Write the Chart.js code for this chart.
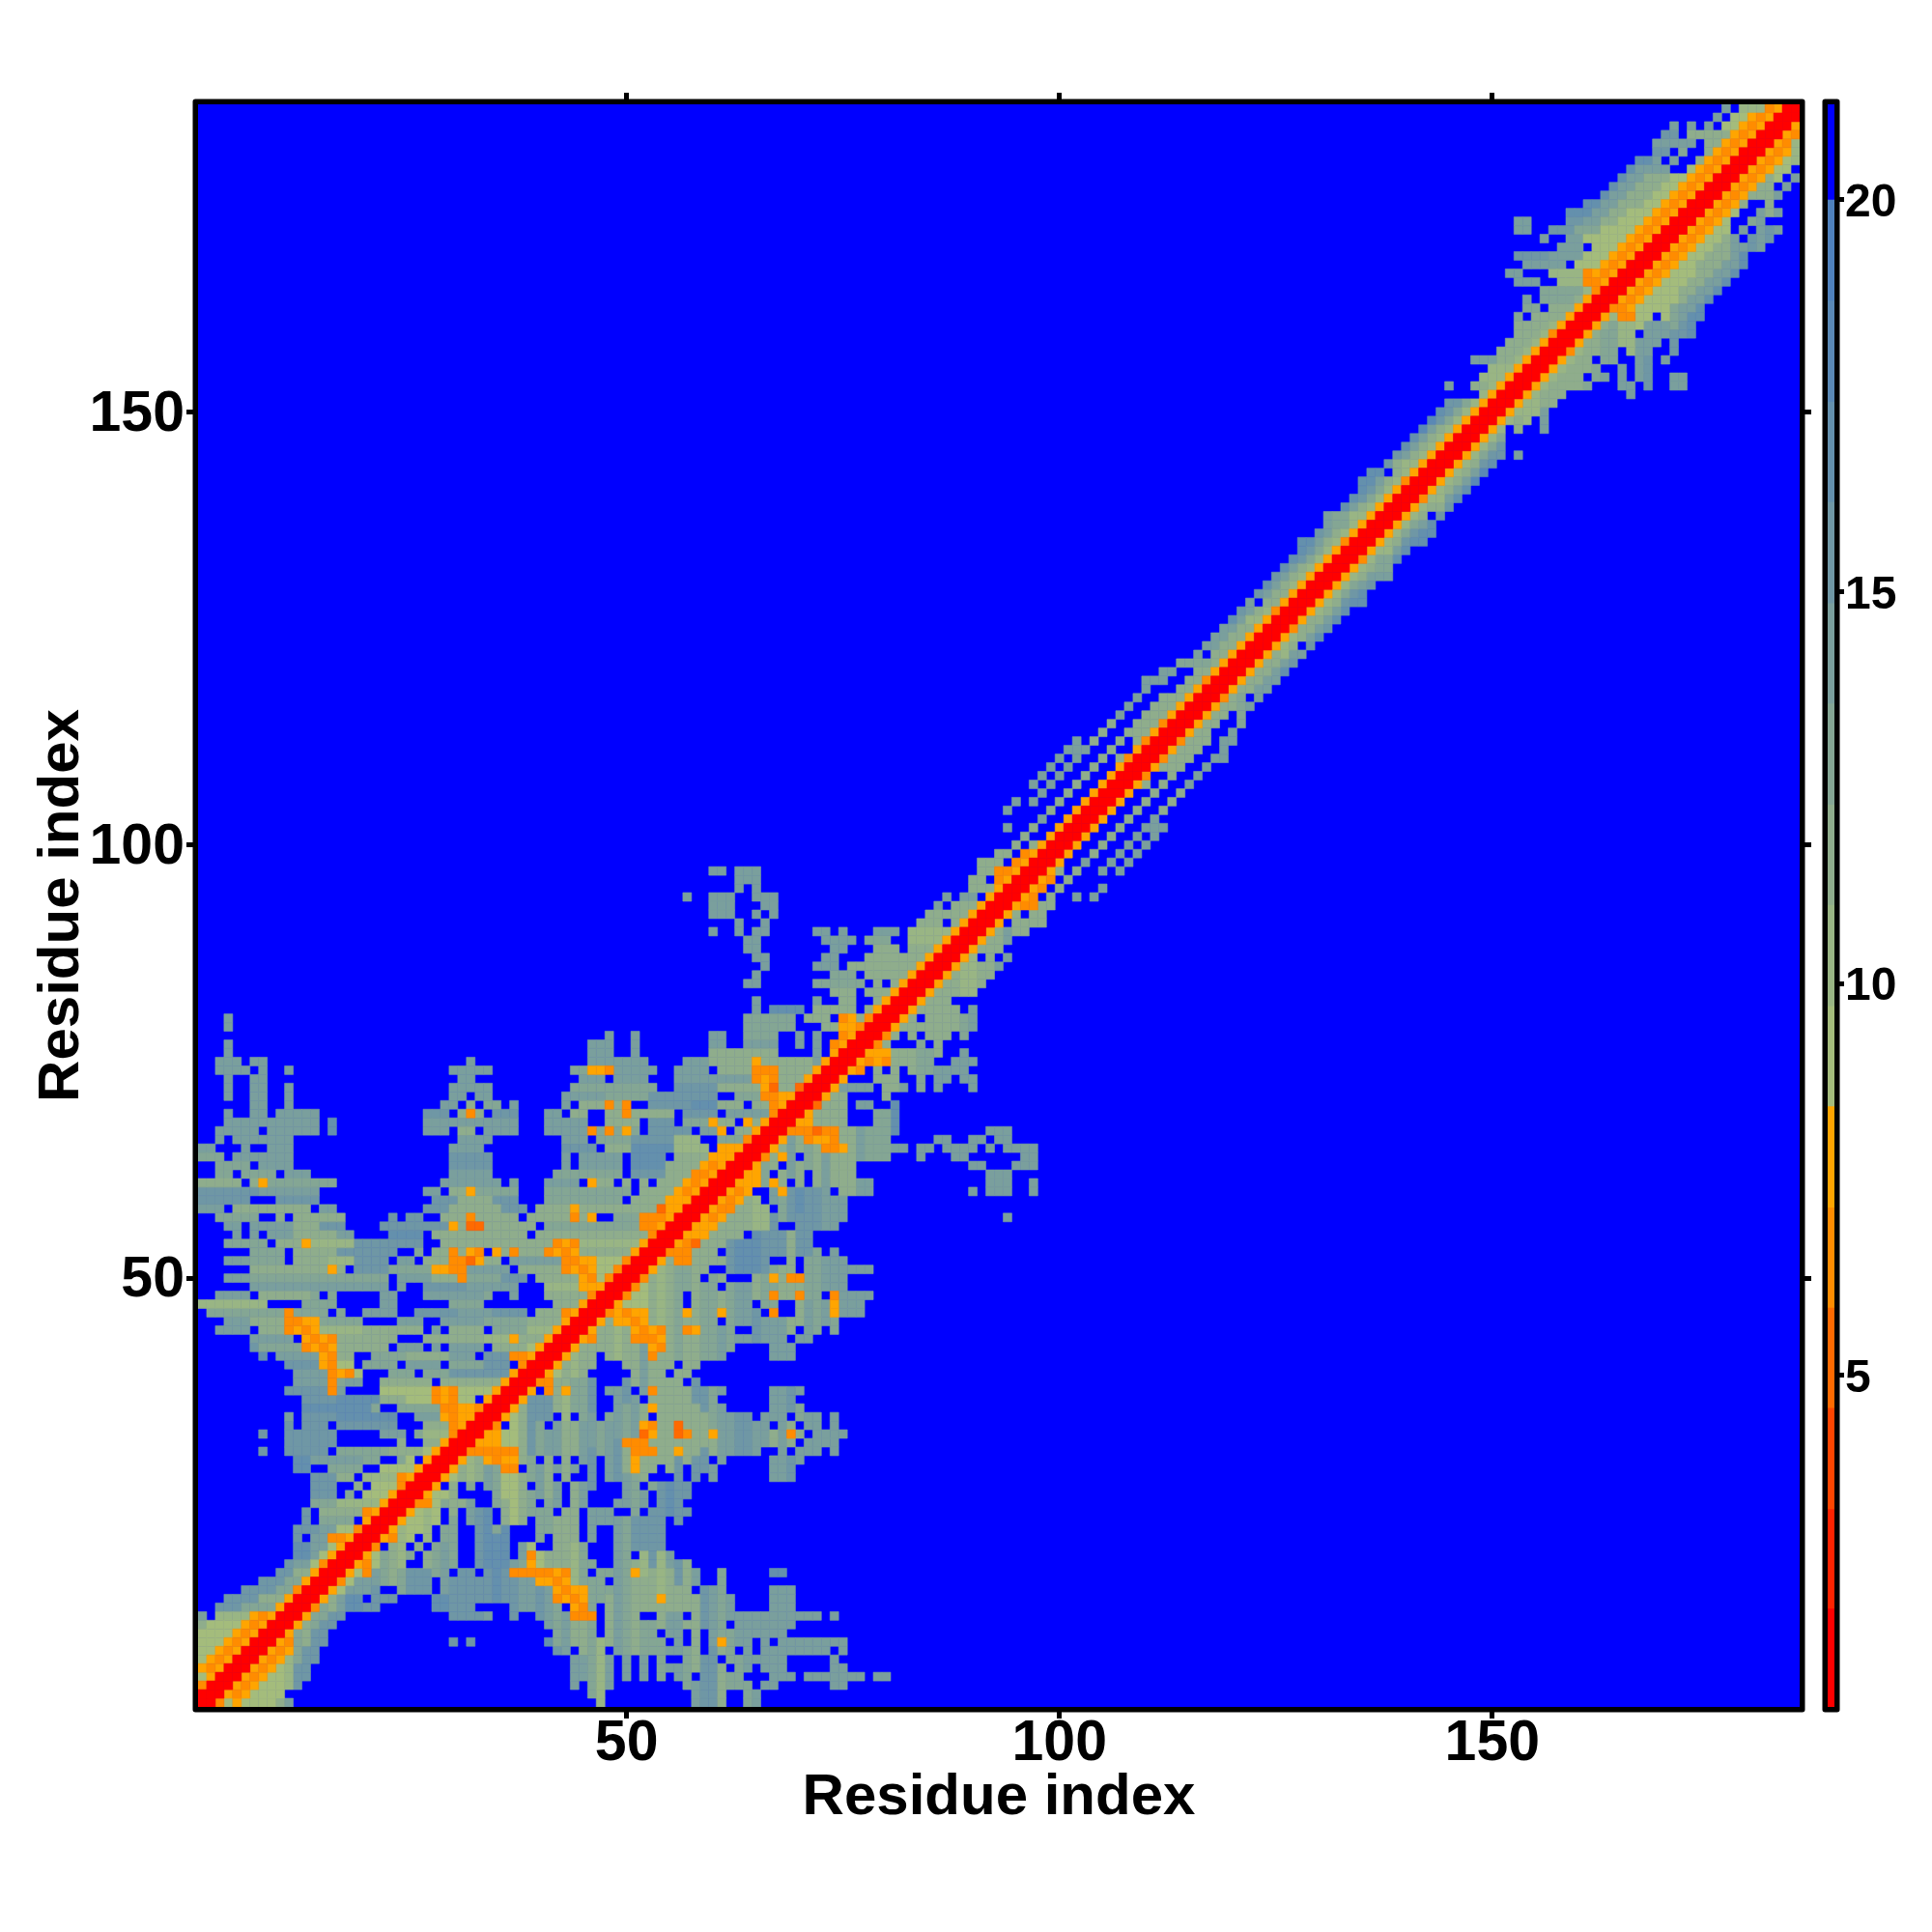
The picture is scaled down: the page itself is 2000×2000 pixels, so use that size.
<!DOCTYPE html>
<html>
<head>
<meta charset="utf-8">
<script src="https://cdn.jsdelivr.net/npm/chart.js@4/dist/chart.umd.min.js"></script>
<style>
html, body { margin: 0; padding: 0; background: #fff; }
canvas { position: absolute; top: 0; }
#chart { left: 0; }
#bar { left: 1870px; }
</style>
</head>
<body>
<canvas id="chart" width="2000" height="2000"></canvas>
<canvas id="bar" width="130" height="2000"></canvas>
<script>
var xyTicks = [50, 100, 150];
var barTicks = [5, 10, 15, 20];
var axisName = 'Residue index';
var residues = 185;

// colour steps of the key, lowest first. '.' is the last (blue) step, which is the plot background
var levelKeys = ['r', 's', 't', 'u', 'v', 'w', 'a', 'b', 'c', 'd', 'e', 'f', 'g', 'h', 'i', '.'];
var levelColors = ['#FF0000', '#FF2300', '#FF4500', '#FF6A00', '#FF8C00', '#FFA500',
    '#A4BC7C', '#99B584', '#8FAD8C', '#84A694', '#7A9F9D', '#6F97A5', '#6490AD', '#5A88B5', '#4F81BD', '#0000FF'];
var levelEdges = [0.77, 2.02, 3.29, 4.58, 5.86, 7.14, 8.43, 9.71, 11.0, 12.28, 13.57, 14.85, 16.14, 17.42, 18.71, 20.0, 21.22];

// one line per residue (row), columns up to the diagonal: "first-last level" or "column level".
// the map is symmetric, so the other half comes from these same cells
var rowCells = [
"1r",
"1-2r",
"1v 2-3r",
"1a 2w 3-4r",
"1w 2v 3w 4-5r",
"1a 2w 3v 4w 5-6r",
"1-2a 3w 4v 5w 6-7r",
"1-3a 4w 5v 6w 7-8r",
"1-4a 5w 6v 7w 8-9r",
"1c 2-5a 6w 7v 8w 9-10r",
"1e 3-6b 7w 8v 9w 10-11r",
"3-5f 6-9d 10w 11-12r",
"4-7f 8-10c 11w 12-13r",
"6-9f 10-11d 12v 13-14r",
"8-10f 11-12d 13w 14-15r",
"10-11f 12-13c 14w 15-16r",
"11f 12-13e 14a 15v 16-17r",
"12-13g 14e 15a 16w 17-18r",
"12-13g 14-15e 16a 17w 18-19r",
"12f 14-15e 16-17v 18w 19-20r",
"12-14f 15-16e 17-18a 19v 20-21r",
"13f 15-18d 20w 21-22r",
"13f 15-19c 20v 21w 22-23r",
"14-16d 17-21b 22w 23-24r",
"14-16f 18d 20-22a 23w 24-25r",
"14-16f 19c 21-23a 24v 25-26r",
"14-16f 17-18c 20-23b 24v 25w 26-27r",
"12-13g 16-19d 22-25a 26w 27-28r",
"12-13g 14-19e 20-21d 24d 25a 27w 28-29r",
"8f 11-12f 13-15f 17-22d 23-26c 27a 28w 29-30r",
"11-16f 24c 27-28c 29w 30-31r",
"8f 11-16f 22-24e 26d 27-29b 30v 31-32r",
"11f 13-15f 17-23f 27-29c 30v 31w 32-33r",
"11e 13-16f 17-23g 26-28e 29w 30v 31-32w 33-34r",
"13-20g 21d 24-28d 29-30v 31-32w 33v 34-35r",
"13-16f 17-21g 22-24c 25-27a 28v 29w 30v 31-32a 34w 35-36r",
"11-15f 16v 17e 22-27a 28v 29w 30v 31-34a 35w 36-37r",
"12-15e 16v 17d 18-19e 22-27c 29-35c 36w 37-38r",
"12-15e 16v 17w 18v 19a 23-25d 27-29d 30-36f 37w 38-39r",
"11-14f 15w 16v 17-18a 20-23d 25-28e 30-33d 34-36f 38v 39-40r",
"8g 10-14e 15w 16v 17-18c 21-24d 25-29c 30-32e 34-36f 37-38v 39w 40-41r",
"7f 8-12d 13v 14w 15v 16w 17-22c 24-26e 28e 30-33e 35-38c 39a 40w 41-42r",
"7-11e 13w 14v 15w 16v 17-23c 27-33c 34-36b 37w 38-40c 41w 42-43r",
"3-6e 8-10c 11v 12w 13v 14w 15-19b 20-26c 28e 30-33c 35-38d 39-41b 42w 43-44r",
"4-6e 7-10c 11-12v 13-14w 15-19d 24-26e 29-33e 34-38d 39-42c 43w 44-45r",
"2-10d 11v 12-15d 17d 20-23e 26-30f 31-34e 35-38f 40-42c 43v 44w 45-46r",
"1-8b 13-16d 22-23e 30-33d 42-44c 45w 46-47r",
"3-6e 8-13c 14d 16d 22-23e 27-33e 34d 37e 41-45c 46v 47-48r",
"7-22e 24e 27-31f 32-37e 41-44b 45-47w 48-49r",
"4-6e 7-22d 24e 25-27e 28-30c 31v 32-35d 36-38f 40-44c 45w 46v 47a 48v 49-50r",
"7-15c 16w 17c 19-22f 23-27d 28-29w 30-31v 32-36e 38-42c 43v 44w 45v 46w 47-48a 49v 50-51r",
"4-6e 7-10d 12-15c 16-18b 19-22f 24-25e 27-29c 30-31v 32u 33w 34-35c 37-42e 43-44v 45-46w 47-49a 50v 51-52r",
"7-10d 12-16c 17-23f 26d 28-29c 30v 31c 32w 33v 35w 36c 37v 38-40c 41v 42w 43v 44w 45-50c 51w 52-53r",
"4-8d 10-12c 13w 14-18b 19-26f 29-41c 42v 43w 44v 45-51b 52w 53-54r",
"5e 7e 9-11e 12-16c 17-18e 23-26g 28-38c 40-52c 53v 54-55r",
"4-5e 7-11e 12-14c 15-17f 22-29f 30w 31c 32-33u 34-39c 41-51d 52-53v 54w 55-56r",
"3-7d 10c 12-17c 23f 25-26f 29-31c 32v 33-37c 39-43c 44v 45c 46w 49-51d 52-53v 54v 55w 56-57r",
"1-3e 5-13c 15-16e 27-29f 30-35c 36-38f 40-43c 44w 45-53c 54u 55-56w 57-58r",
"1-6f 10-14f 28-30f 31-34c 35-37f 41-49d 51-54c 55-57w 58-59r",
"1-7f 8-14e 27-28e 30-31c 32w 33-37d 41-50d 52-55c 56w 57v 58w 59-60r",
"1-5c 7c 8w 9-16d 29-35e 37e 41-44e 46w 47-48c 50c 52c 54-56c 57w 58v 59w 60-61r",
"3-4d 6-9d 11-13e 30-34e 42-49d 51-54f 55-57c 58-59v 60w 61-62r",
"3-6d 8-11e 30-34f 43e 45-49e 51-54g 55-58c 59w 60v 61w 62-63r",
"1-3d 5-11e 30-34f 43e 45-49e 51-54g 56-59c 60-62w 63-64r",
"1-2e 6e 9-11e 30-33e 43-46f 48-50c 51-55g 56-59b 61-63w 64-65r",
"3e 5-11e 31-34e 43-45e 47-50d 51-55f 56-58b 61-63d 64v 65-66r",
"3-7e 9-14e 16g 27-29e 31-32c 34-37e 41-45e 46v 47d 48v 49d 50w 51d 53-57f 59-60e 61w 63-64c 65w 66-67r",
"4-14e 16g 27-37e 41-45e 48-51c 53-55f 57-59d 60w 61-62c 64w 65c 66w 67-68r",
"4e 7-8e 10-14e 27-29f 31c 32v 33c 35-37f 41-42e 44-45c 48-49c 50v 51-55c 57-60f 62-66e 67v 68-69r",
"7-8e 11e 29-30e 32c 34-35d 37e 43e 45-47c 48v 49c 50v 53-57f 58-60g 61-63c 65-66c 67v 68w 69-70r",
"4e 7-8e 11e 30-31e 33-34e 43-47e 48-52d 53-60f 63-65d 66-67v 68-69w 70-71r",
"4e 7-8e 11e 30-34e 44-53d 56-60f 61-65c 66w 67u 68-69c 70u 71-72r",
"4e 7-8e 31-32e 45-47e 49-52e 56-64e 65v 66w 67v 68-70c 71w 72-73r",
"3-6e 8e 11e 30-34e 44-45d 46-47w 48v 49-53e 56-59e 61-64c 65-67v 68-71c 72w 73-74r",
"3-5e 7-8e 32e 46-52e 57-59e 60-64c 65w 66-71c 72e 73w 74-75r",
"4e 46-48e 51e 60-67c 72e 74w 75-76r",
"4e 46-48e 51e 60-61e 64-67e 70e 72e 74v 75w 76-77r",
"48e 51e 60-61e 64-67d 70e 72e 75v 76w 77-78r",
"4e 64-69d 73-74c 75-76w 77v 78-79r",
"4e 64-69d 71-73c 75v 76w 77c 78v 79-80r",
"65e 67-70g 72-76c 78c 79w 80-81r",
"65e 72e 75-76c 79c 80w 81-82r",
"74-76c 78-80c 81w 82-83r",
"64-65e 72-77d 79c 81c 82w 83-84r",
"65e 74-76d 78-82c 83w 84-85r",
"66e 72-74e 76-83c 84w 85-86r",
"65-66e 73-74e 78-84c 85w 86-87r",
"64-65e 74-75e 79-81c 83-85c 86w 87-88r",
"64-65e 73-76e 78-80d 83-86b 87w 88-89r",
"60e 63e 65-66e 72-73e 75e 79-81e 83-87b 88w 89-90r",
"63e 66e 84-86c 88c 89w 90-91r",
"60-62e 65e 67e 85-89c 90w 91-92r",
"60-62e 66-67e 86e 88-90c 91w 92-93r",
"57e 60-62e 65-67e 87e 89-90e 92w 93-94r",
"63e 65e 90-92c 93w 94-95r",
"63-65e 90-91c 93v 94w 95-96r",
"60-61e 63-65e 91-92c 93-94v 95w 96-97r",
"91-93c 95v 96w 97-98r",
"93-94c 96v 97w 98-99r",
"95c 97c 98w 99-100r",
"96c 99w 100-101r",
"94e 97c 100w 101-102r",
"98e 101w 102-103r",
"94e 99c 102w 103-104r",
"95e 97e 100c 103w 104-105r",
"98e 101c 104w 105-106r",
"97e 99e 102c 105w 106-107r",
"98e 100e 103c 106w 107-108r",
"99e 101e 104c 107w 108-109r",
"100e 102e 105c 107c 108v 109-110r",
"101-103e 106c 109w 110-111r",
"102e 104c 107c 109c 110v 111-112r",
"105c 108-110c 111w 112-113r",
"106c 109-111c 112v 113-114r",
"107e 110-112c 113w 114-115r",
"108e 111-113c 114w 115-116r",
"109e 112-114c 115w 116-117r",
"110e 114-115c 116w 117-118r",
"110-112e 115-116c 117v 118-119r",
"112-113e 116-117c 118w 119-120r",
"114-117d 118c 119w 120-121r",
"116e 118-119c 120w 121-122r",
"117-118e 119-120c 121w 122-123r",
"118-119e 120-121c 122w 123-124r",
"119-120e 121-122c 123w 124-125r",
"120g 121e 122-123b 124w 125-126r",
"121f 122e 123c 124b 125v 126-127r",
"122e 124-125c 126w 127-128r",
"123f 124e 125-126c 127w 128-129r",
"124g 125e 126c 127b 128w 129-130r",
"125f 126e 127c 128b 129w 130-131r",
"126g 127e 128c 129b 130w 131-132r",
"127g 128f 129d 130b 131w 132-133r",
"128g 129f 130d 131b 132w 133-134r",
"128-129g 130e 131c 132b 133v 134-135r",
"130f 131e 132c 133b 134w 135-136r",
"131e 132-133d 134b 135w 136-137r",
"131e 132-133d 134-135b 136w 137-138r",
"133g 134e 135c 136b 137w 138-139r",
"134g 135f 136d 137b 138w 139-140r",
"135g 136f 137d 138b 139w 140-141r",
"135-136g 137e 138c 139b 140v 141-142r",
"136-137g 139c 140b 141w 142-143r",
"138f 139c 140-141b 142w 143-144r",
"139f 140e 141c 142b 143w 144-145r",
"140g 141e 142c 143b 144w 145-146r",
"141g 142e 143c 144b 145w 146-147r",
"142h 143e 144c 145b 146w 147-148r",
"143h 144f 145d 146b 147w 148-149r",
"144g 145f 146d 147b 148w 149-150r",
"145-146f 147d 148b 149w 150-151r",
"149b 150w 151-152r",
"145e 148-149c 150b 151w 152-153r",
"149-151b 152w 153-154r",
"150-152b 153w 154-155r",
"148-150e 151-152c 153b 154w 155-156r",
"151-153c 154b 155w 156-157r",
"152-154c 155b 156w 157-158r",
"153-155c 156b 157v 158-159r",
"153-156c 157b 158w 159-160r",
"153d 155-158c 159w 160-161r",
"154-155d 157-159c 160w 161-162r",
"154e 156-159d 160c 161w 162-163r",
"156-160d 161b 162v 163-164r",
"153-155e 158-160b 161-162v 163w 164-165r",
"152-153e 157-160b 161v 162w 163v 164w 165-166r",
"154-158e 160-162a 163w 164v 165w 166-167r",
"153-156f 157-160e 161-163a 164w 165v 166w 167-168r",
"158-160e 162-164a 165w 166v 167w 168-169r",
"156e 159-160e 161-165a 166w 167v 168w 169-170r",
"153-154e 157-159f 160-162d 163-166a 167w 168v 169w 170-171r",
"153-154e 159-160f 161-162e 163-164c 165-167a 168w 169v 170w 171-172r",
"159-161g 162-163e 164-165c 166-168a 169w 170v 171w 172-173r",
"161-162g 163-164e 165-167c 168-169a 170w 171v 172w 173-174r",
"163g 164-165e 166-168c 169-170a 171w 172v 173w 174-175r",
"164g 165-166e 167-169c 170-171a 172w 173v 174w 175-176r",
"165g 166-167e 168-170c 171-172a 173w 174v 175w 176-177r",
"166g 167-170e 173a 174w 175v 176w 177-178r",
"167-168g 169e 171e 174c 175w 176v 177w 178-179r",
"169-170f 172d 175c 176w 177v 178w 179-180r",
"169-173e 175-176c 177w 178v 179w 180-181r",
"170-171f 173-177c 178w 179v 180w 181-182r",
"171e 173e 175e 177-178a 179w 180v 181w 182-183r",
"176e 178-179a 180w 181v 182w 183-184r",
"177e 179-181b 182v 183w 184-185r"
];

function getPoints() {
    var output = {};
    levelKeys.forEach(function(key) { output[key] = []; });
    rowCells.forEach(function(line, index) {
        var row = index + 1;
        line.split(' ').forEach(function(part) {
            var m = part.match(/^(\d+)(?:-(\d+))?([a-z])$/);
            var first = parseInt(m[1]);
            var last = m[2] ? parseInt(m[2]) : first;
            for (var col = first; col <= last; col++) {
                output[m[3]].push({x: col, y: row});
                if (col != row) output[m[3]].push({x: row, y: col});
            }
        });
    });
    return output;
}

var points = getPoints();
var datasets = [];
for (var i = 0; i < levelKeys.length - 1; i++) {
    datasets.push({
        data: points[levelKeys[i]],
        pointStyle: 'rect',
        pointRadius: cellRadius,
        backgroundColor: levelColors[i],
        borderColor: levelColors[i],
        borderWidth: 0.6
    });
}

// rect points are sized from the radius, so work it out of the scale
function cellRadius(ctx) {
    var x = ctx.chart.scales.x;
    return (x.getPixelForValue(2) - x.getPixelForValue(1)) * Math.SQRT1_2;
}

function setTicks(values) {
    return function(scale) {
        scale.ticks = values.map(function(v) { return {value: v}; });
    };
}

function fixWidth(w) { return function(scale) { scale.width = w; }; }
function fixHeight(h) { return function(scale) { scale.height = h; }; }

var frame = {
    id: 'frame',
    beforeDatasetsDraw: function(chart) {
        var a = chart.chartArea;
        if (chart.canvas.id != 'chart') return;
        chart.ctx.fillStyle = levelColors[levelColors.length - 1];
        chart.ctx.fillRect(a.left, a.top, a.width, a.height);
    },
    afterDraw: function(chart) {
        var a = chart.chartArea, ctx = chart.ctx;
        ctx.save();
        ctx.strokeStyle = '#000';
        ctx.lineWidth = 5.5;
        ctx.lineJoin = 'round';
        ctx.strokeRect(a.left - 2.75, a.top - 2.75, a.width + 5.5, a.height + 5.5);
        ctx.restore();
    }
};

var boldTick = {family: '"Liberation Sans"', weight: 'bold', size: 59};
var boldTitle = {family: '"Liberation Sans"', weight: 'bold', size: 60};
var boldBar = {family: '"Liberation Sans"', weight: 'bold', size: 48};

function sideAxis(position, after) {
    return {
        type: 'linear',
        position: position,
        min: 0.5,
        max: residues + 0.5,
        border: {display: false},
        grid: {drawOnChartArea: false, tickLength: 12, tickWidth: 5, tickColor: '#000'},
        ticks: {display: false},
        afterBuildTicks: setTicks(xyTicks),
        afterFit: after
    };
}

var xBottom = sideAxis('bottom', fixHeight(2000 - 1767));
xBottom.ticks = {color: '#000', font: boldTick, padding: -9, maxRotation: 0, autoSkip: false};
xBottom.title = {display: true, text: axisName, color: '#000', font: boldTitle, padding: {top: 0, bottom: 103}};

var yLeft = sideAxis('left', fixWidth(205));
yLeft.ticks = {color: '#000', font: boldTick, padding: 2, labelOffset: 3, autoSkip: false};
yLeft.title = {display: true, text: axisName, color: '#000', font: boldTitle, padding: {top: 28, bottom: 0}};

new Chart(document.getElementById('chart').getContext('2d'), {
    type: 'scatter',
    data: {datasets: datasets},
    plugins: [frame],
    options: {
        responsive: false,
        animation: false,
        layout: {padding: 0, autoPadding: false},
        plugins: {legend: {display: false}, tooltip: {enabled: false}},
        scales: {
            x: xBottom,
            y: yLeft,
            x2: sideAxis('top', fixHeight(108)),
            y2: sideAxis('right', fixWidth(2000 - 1863))
        }
    }
});

var barSets = [];
for (var k = 0; k < levelColors.length; k++) {
    barSets.push({
        data: [[levelEdges[k], levelEdges[k + 1]]],
        backgroundColor: levelColors[k],
        barPercentage: 1,
        categoryPercentage: 1,
        grouped: false
    });
}

new Chart(document.getElementById('bar').getContext('2d'), {
    type: 'bar',
    data: {labels: [''], datasets: barSets},
    plugins: [frame],
    options: {
        responsive: false,
        animation: false,
        layout: {padding: {left: 22, top: 108, bottom: 2000 - 1767, right: 0}, autoPadding: false},
        plugins: {legend: {display: false}, tooltip: {enabled: false}},
        scales: {
            x: {display: false},
            y: {
                position: 'right',
                min: levelEdges[0],
                max: levelEdges[levelEdges.length - 1],
                border: {display: false},
                grid: {drawOnChartArea: false, tickLength: 10, tickWidth: 5, tickColor: '#000'},
                ticks: {color: '#000', font: boldBar, padding: 1, labelOffset: 4, autoSkip: false},
                afterBuildTicks: setTicks(barTicks),
                afterFit: fixWidth(101)
            }
        }
    }
});
</script>
</body>
</html>
